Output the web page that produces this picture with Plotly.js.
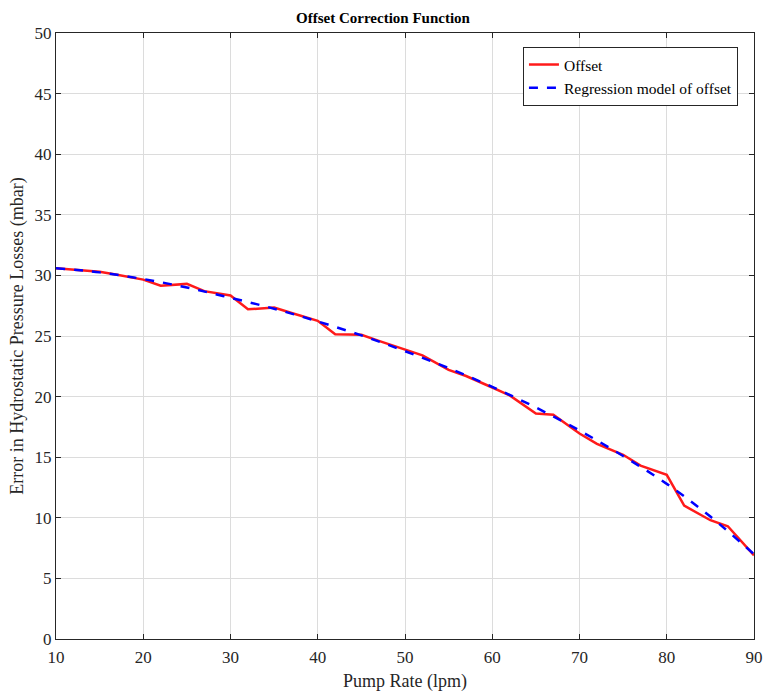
<!DOCTYPE html>
<html><head><meta charset="utf-8">
<script src="https://cdn.plot.ly/plotly-3.0.1.min.js"></script>
<style>html,body{margin:0;padding:0;background:#fff}#chart{width:766px;height:692px}</style>
</head><body><div id="chart"></div>
<script>
const offsetX = [10, 12, 15, 17, 20, 22, 25, 27, 30, 32, 35, 37, 40, 42, 45, 47, 50, 52, 55, 57, 60, 62, 65, 67, 70, 72, 75, 77, 80, 82, 85, 87, 90];
const offsetY = [30.6, 30.5, 30.3, 30.05, 29.65, 29.15, 29.3, 28.7, 28.35, 27.2, 27.35, 26.9, 26.25, 25.15, 25.1, 24.6, 23.9, 23.4, 22.2, 21.7, 20.75, 20.1, 18.6, 18.5, 16.95, 16.1, 15.2, 14.3, 13.55, 11.0, 9.8, 9.3, 6.9];
const regX = [10, 15, 20, 25, 30, 35, 40, 45, 50, 55, 60, 65, 70, 75, 80, 85, 90];
const regY = [30.6, 30.25, 29.7, 29.0, 28.15, 27.25, 26.2, 25.05, 23.75, 22.35, 20.8, 19.1, 17.2, 15.1, 12.8, 10.1, 7.0];

const fam = '"Liberation Serif", "Times New Roman", serif';
const tickFont = {family: fam, color: '#262626', size: 17};
const titleFont = {family: fam, color: '#262626', size: 18};
const traces = [
  {x: offsetX, y: offsetY, mode: 'lines', name: 'Offset', line: {color: '#ff1a1a', width: 2.5}},
  {x: regX, y: regY, mode: 'lines', name: 'Regression model of offset', line: {color: '#0000ff', width: 2.5, dash: 'dash', shape: 'spline'}}
];
const axisCommon = {showline: true, mirror: 'ticks', linecolor: '#262626', linewidth: 1, ticks: 'inside', ticklen: 5, tickcolor: '#262626',
  showgrid: true, gridcolor: '#dcdcdc', gridwidth: 1, zeroline: false, tickfont: tickFont};
const layout = {
  width: 766, height: 692,
  margin: {l: 56, r: 12, t: 33, b: 53},
  paper_bgcolor: '#ffffff', plot_bgcolor: '#ffffff',
  font: tickFont,
  title: {text: '<b>Offset Correction Function</b>', font: {family: fam, size: 15, color: '#000'}, x: 0.5, xanchor: 'center', y: 0.982, yanchor: 'top'},
  xaxis: Object.assign({}, axisCommon, {range: [10, 90], dtick: 10, ticklabelstandoff: 3, title: {text: 'Pump Rate (lpm)', font: titleFont, standoff: 8}}),
  yaxis: Object.assign({}, axisCommon, {range: [0, 50], dtick: 5, title: {text: 'Error in Hydrostatic Pressure Losses (mbar)', font: titleFont, standoff: 6}}),
  legend: {x: 0.977, y: 0.977, xanchor: 'right', yanchor: 'top', bgcolor: '#fff', bordercolor: '#262626', borderwidth: 1,
    font: {family: fam, size: 15.5, color: '#000'}, tracegroupgap: 0, itemwidth: 30},
  showlegend: true
};
Plotly.newPlot('chart', traces, layout, {displayModeBar: false, staticPlot: true});
</script></body></html>
